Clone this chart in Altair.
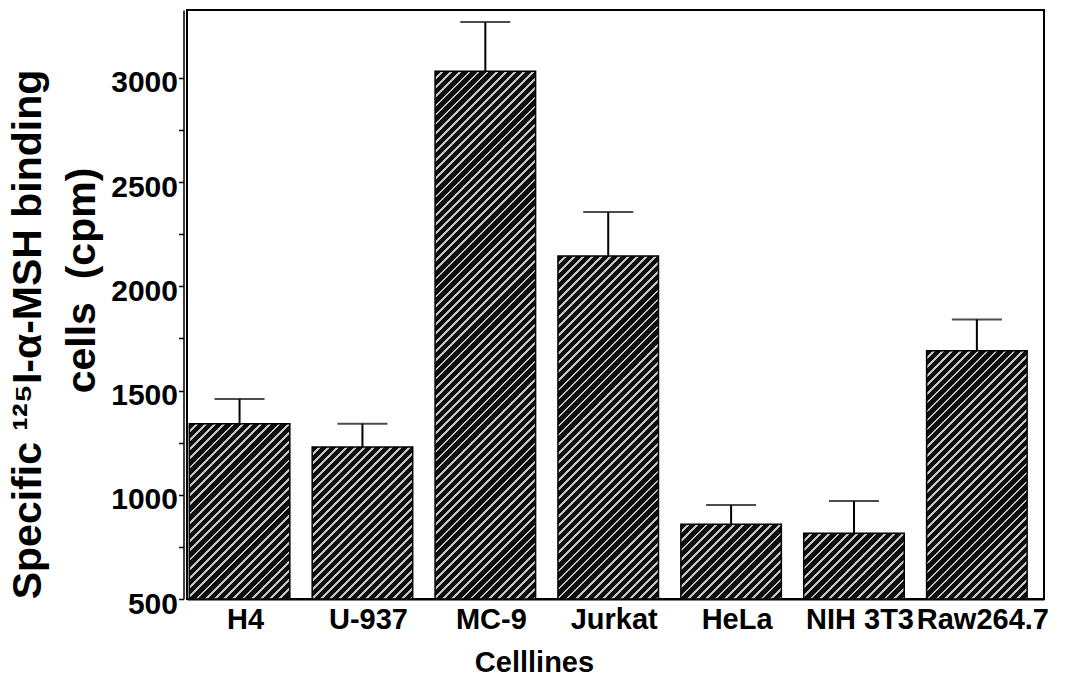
import altair as alt
import pandas as pd

# ---- data ----
cells = ["H4", "U-937", "MC-9", "Jurkat", "HeLa", "NIH 3T3", "Raw264.7"]
means = [1341, 1229, 3031, 2145, 858, 815, 1691]
upper = [1459, 1341, 3267, 2356, 951, 970, 1841]
y_ticks = [500, 750, 1000, 1250, 1500, 1750, 2000, 2250, 2500, 2750, 3000]

df = pd.DataFrame({"cell": cells, "mean": means, "upper": upper})

# ---- layout ----
W, H = 857, 589
Y_MIN, Y_MAX = 500, 3325
P_IN, P_OUT, ALIGN = 0.182, 0.078, 0.12
FONT = "Liberation Sans"

n = len(cells)
step = W / (n - P_IN + 2 * P_OUT)
bw = step * (1 - P_IN)


def stripe_gradient(value):
    """45-degree '/' stripes for a bar of the given value (objectBoundingBox units)."""
    h = max((value - Y_MIN) / (Y_MAX - Y_MIN) * H, 1.0)
    w = bw
    r = w / h
    b = (r + 1) / (r * r + 1)
    a = r * b
    length = (w + h) / 2 ** 0.5
    period = 6.4
    k = max(int(round(length / period)), 1)
    stops = []
    for i in range(k):
        t0 = i / k
        t1 = (i + 0.70) / k
        t2 = (i + 1) / k
        stops += [
            {"offset": t0, "color": "#0d0d0d"},
            {"offset": t1, "color": "#0d0d0d"},
            {"offset": t1, "color": "#c4c4c4"},
            {"offset": t2, "color": "#c4c4c4"},
        ]
    return {"gradient": "linear", "x1": 0, "y1": 0, "x2": a, "y2": b, "stops": stops}


fill_enc = {
    "condition": [
        {"test": f"datum.cell === '{c}'", "value": stripe_gradient(v)}
        for c, v in zip(cells, means)
    ],
    "value": "#333333",
}

x_enc = alt.X(
    "cell:N",
    sort=cells,
    scale=alt.Scale(paddingInner=P_IN, paddingOuter=P_OUT, align=ALIGN),
    axis=alt.Axis(
        title="Celllines",
        titleFont=FONT,
        titleFontSize=29,
        titleFontWeight="bold",
        titleColor="black",
        titleX=347,
        titleY=72,
        titleAlign="center",
        titleBaseline="alphabetic",
        labelFont=FONT,
        labelFontSize=29,
        labelFontWeight="bold",
        labelColor="black",
        labelAngle=0,
        labelPadding=6,
        labelOffset=6,
        labelBaseline="top",
        ticks=False,
        tickSize=0,
        domainColor="black",
        domainWidth=2,
    ),
)

y_scale = alt.Scale(domain=[Y_MIN, Y_MAX], nice=False, zero=False)

bars = alt.Chart(df).mark_bar(stroke="black", strokeWidth=1.5).encode(
    x=x_enc,
    y=alt.Y(
        "mean:Q",
        scale=y_scale,
        axis=alt.Axis(
            title="cells\u00a0\u00a0(cpm)",
            titleFont=FONT,
            titleFontSize=41,
            titleFontWeight="bold",
            titleColor="black",
            titleAngle=270,
            titleAlign="center",
            titleBaseline="alphabetic",
            titleX=-89,
            titleY=270,
            values=y_ticks,
            labelExpr="datum.value % 500 == 0 ? datum.value : ''",
            labelFont=FONT,
            labelFontSize=30,
            labelFontWeight="bold",
            labelColor="black",
            labelPadding=1,
            labelOffset=5,
            tickSize=5,
            tickColor="black",
            tickWidth=1.5,
            domainColor="black",
            domainWidth=1.5,
            offset=3.5,
            grid=False,
        ),
    ),
    y2=alt.datum(Y_MIN),
    fill=fill_enc,
)

whisker = alt.Chart(df).mark_rule(color="black", strokeWidth=2).encode(
    x=alt.X("cell:N", sort=cells),
    y=alt.Y("mean:Q", scale=y_scale),
    y2="upper:Q",
)

caps = alt.Chart(df).mark_tick(color="black", thickness=2, size=50).encode(
    x=alt.X("cell:N", sort=cells),
    y=alt.Y("upper:Q", scale=y_scale),
)

chart = (
    alt.layer(bars, whisker, caps)
    .properties(
        width=W,
        height=H,
        autosize=alt.AutoSizeParams(type="none"),
        padding={"left": 187, "top": 10, "right": 1081 - 187 - W, "bottom": 677 - 10 - H},
        background="white",
        title=alt.TitleParams(
            text="Specific ¹²⁵I-α-MSH binding",
            orient="left",
            anchor="middle",
            frame="group",
            font=FONT,
            fontSize=41,
            fontWeight="bold",
            color="black",
            offset=12,
            dx=-30,
        ),
    )
    .configure_view(stroke="black", strokeWidth=2)
)

chart.save("out.html", embed_options={"renderer": "svg", "actions": False})
